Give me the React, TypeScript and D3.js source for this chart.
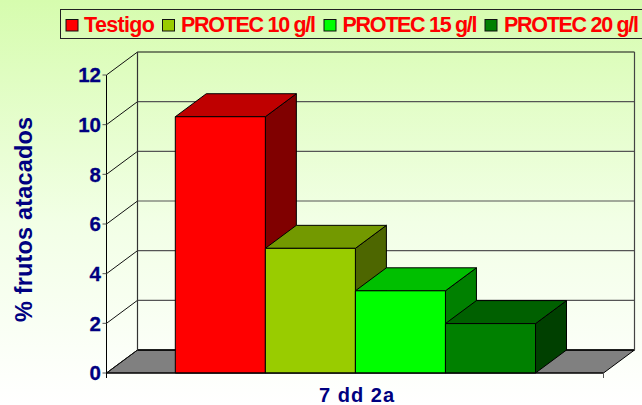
import React from "react";
import * as d3 from "d3";

const seriesNames = ["Testigo", "PROTEC 10 g/l", "PROTEC 15 g/l", "PROTEC 20 g/l"];
const seriesValues = [10.32, 5.02, 3.31, 1.99];
const frontColors = ["#ff0000", "#99cc00", "#00ff00", "#008000"];
const topColors = ["#bf0000", "#739900", "#00bf00", "#006000"];
const sideColors = ["#800000", "#4d6600", "#008000", "#004000"];
const yTicks = [0, 2, 4, 6, 8, 10, 12];
const categoryLabel = "7 dd 2a";
const yTitle = "% frutos atacados";
const legendSwatchX = [66, 162.5, 324, 485];
const legendTextX = [84, 181, 342.5, 504];
const legendTextW = [71, 135, 135, 135];

const W = 642;
const H = 405;
const NAVY = "#000080";
const FONT = "'Liberation Sans', Arial, sans-serif";
const DX = 31;
const DY = -23;

const y = d3.scaleLinear().domain([0, 12]).range([373, 75]);
const xFloor = d3.scaleLinear().domain([0, 1]).range([106.5, 603.5]);
const band = d3.scaleBand<string>().domain(seriesNames).range([175.3, 535.5]).paddingInner(0).paddingOuter(0);
const poly = (pts: [number, number][]) => pts.map((p) => p.join(",")).join(" ");

export default function App() {
  const x0 = xFloor(0);
  const x1 = xFloor(1);
  const y0 = y(0);
  const yTop = y(12);
  return (
    <svg width={W} height={H} viewBox={`0 0 ${W} ${H}`} style={{ position: "absolute", left: 0, top: 0, display: "block" }} fontFamily={FONT}>
      <defs>
        <linearGradient id="bg" x1="0" y1="0" x2="0" y2="1">
          <stop offset="0" stopColor="#d6fcae" />
          <stop offset="0.55" stopColor="#f2ffe6" />
          <stop offset="1" stopColor="#ffffff" />
        </linearGradient>
      </defs>
      <rect width={W} height={H} fill="url(#bg)" />

      {/* floor */}
      <polygon points={poly([[x0, y0], [x0 + DX, y0 + DY], [x1 + DX, y0 + DY], [x1, y0]])} fill="#808080" stroke="#000" strokeWidth={1} />

      {/* back wall and gridlines */}
      {yTicks.map((t) => (
        <g key={t}>
          <line x1={x0} x2={x0 + DX} y1={y(t)} y2={y(t) + DY} stroke="#111" strokeWidth={1} />
          <line x1={x0 + DX} x2={x1 + DX} y1={y(t) + DY} y2={y(t) + DY} stroke={t === 0 ? "#000" : t === 12 ? "#111" : "#555"} strokeWidth={t === 0 ? 1.5 : 1.2} />
        </g>
      ))}
      <line x1={x0 + DX} x2={x0 + DX} y1={yTop + DY} y2={y0 + DY} stroke="#333" strokeWidth={1.2} />
      <line x1={x1 + DX} x2={x1 + DX} y1={yTop + DY} y2={y0 + DY} stroke="#444" strokeWidth={1.2} />

      {/* y axis */}
      <line x1={x0} x2={x0} y1={yTop} y2={y0 + 5} stroke="#000" strokeWidth={1} />
      {yTicks.map((t) => (
        <g key={t}>
          <line x1={x0 - 4} x2={x0} y1={y(t)} y2={y(t)} stroke="#555" strokeWidth={1} />
          <text x={101} y={y(t)} dy="0.36em" textAnchor="end" fontSize={20.5} fontWeight="bold" fill={NAVY} stroke={NAVY} strokeWidth={0.3}>{t}</text>
        </g>
      ))}

      {/* bars */}
      {seriesNames.map((name, i) => {
        const bx = band(name)!;
        const bw = band.bandwidth();
        const by = y(seriesValues[i]);
        return (
          <g key={name} stroke="#000" strokeWidth={1} strokeLinejoin="round">
            <polygon points={poly([[bx + bw, by], [bx + bw + DX, by + DY], [bx + bw + DX, y0 + DY], [bx + bw, y0]])} fill={sideColors[i]} />
            <polygon points={poly([[bx, by], [bx + DX, by + DY], [bx + bw + DX, by + DY], [bx + bw, by]])} fill={topColors[i]} />
            <rect x={bx} y={by} width={bw} height={y0 - by} fill={frontColors[i]} />
          </g>
        );
      })}

      {/* x axis */}
      <line x1={x0} x2={x1} y1={y0} y2={y0} stroke="#000" strokeWidth={1.2} />
      <line x1={x0} x2={x0} y1={y0} y2={y0 + 5} stroke="#000" strokeWidth={1} />
      <line x1={x1} x2={x1} y1={y0} y2={y0 + 5} stroke="#555" strokeWidth={1} />
      <text x={319} y={401.5} fontSize={20} fontWeight="bold" fill={NAVY} textLength={75} lengthAdjust="spacing">{categoryLabel}</text>

      <text transform="translate(31.5,322) rotate(-90)" fontSize={23.5} fontWeight="bold" fill={NAVY} textLength={205} lengthAdjust="spacing">{yTitle}</text>

      {/* legend */}
      <rect x={60.5} y={9.5} width={590} height={29} fill="none" stroke="#222" strokeWidth={1} />
      {seriesNames.map((name, i) => (
        <g key={name}>
          <rect x={legendSwatchX[i]} y={19.5} width={12} height={11.5} fill={frontColors[i]} stroke="#111" strokeWidth={1} />
          <text x={legendTextX[i]} y={32} fontSize={21.5} fontWeight="bold" fill="#ff0000" textLength={legendTextW[i]} lengthAdjust="spacing">{name}</text>
        </g>
      ))}
    </svg>
  );
}
